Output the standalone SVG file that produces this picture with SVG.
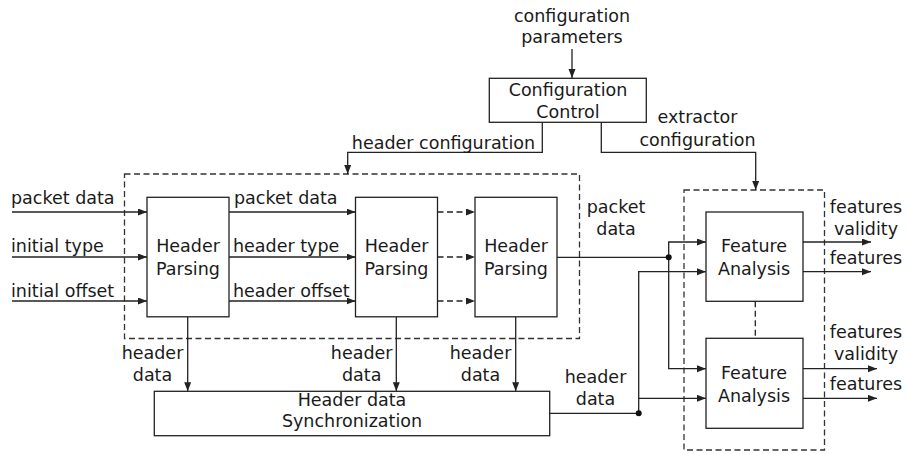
<svg xmlns="http://www.w3.org/2000/svg" width="907" height="454" viewBox="0 0 907 454">
<style>
text{font-family:"DejaVu Sans",sans-serif;font-size:17.5px;fill:#1a1a1a}
.m{text-anchor:middle}
.box{fill:#fff;stroke:#222;stroke-width:1.3}
.dbox{fill:none;stroke:#333;stroke-width:1.3;stroke-dasharray:6,3.5}
.ln{fill:none;stroke:#222;stroke-width:1.3}
.a{marker-end:url(#ah)}
.dl{stroke-dasharray:6,3.5}
</style>
<defs>
<marker id="ah" markerUnits="userSpaceOnUse" markerWidth="10" markerHeight="8" refX="9" refY="3.5" orient="auto">
<path d="M0,0 L9,3.5 L0,7 z" fill="#222"/>
</marker>
</defs>

<g id="group-parsing"><rect class="dbox" x="124.5" y="174" width="455" height="164.5"/></g>
<g id="group-analysis"><rect class="dbox" x="684" y="190" width="140.5" height="260"/></g>

<g id="connectors">
<!-- config params -->
<line class="ln a" x1="572" y1="49" x2="572" y2="78"/>
<!-- header configuration -->
<polyline class="ln a" points="542.3,122.3 542.3,152.3 347.7,152.3 347.7,174"/>
<!-- extractor configuration -->
<polyline class="ln a" points="601.3,122.3 601.3,152.3 755.7,152.3 755.7,190"/>
<!-- inputs -->
<line class="ln a" x1="12" y1="212" x2="147" y2="212"/>
<line class="ln a" x1="12" y1="257" x2="147" y2="257"/>
<line class="ln a" x1="12" y1="301" x2="147" y2="301"/>
<!-- HP1 -> HP2 -->
<line class="ln a" x1="229" y1="212" x2="355.5" y2="212"/>
<line class="ln a" x1="229" y1="257" x2="355.5" y2="257"/>
<line class="ln a" x1="229" y1="301" x2="355.5" y2="301"/>
<!-- HP2 -> HP3 dashed -->
<line class="ln a dl" x1="437.5" y1="212" x2="475" y2="212"/>
<line class="ln a dl" x1="437.5" y1="257" x2="475" y2="257"/>
<line class="ln a dl" x1="437.5" y1="301" x2="475" y2="301"/>
<!-- header data down -->
<line class="ln a" x1="187.7" y1="317" x2="187.7" y2="391.3"/>
<line class="ln a" x1="396.3" y1="317" x2="396.3" y2="391.3"/>
<line class="ln a" x1="515.7" y1="317" x2="515.7" y2="391.3"/>
<!-- packet data to feature analysis -->
<line class="ln" x1="557" y1="257.3" x2="668.7" y2="257.3"/>
<polyline class="ln a" points="668.7,257.3 668.7,242 706,242"/>
<polyline class="ln a" points="668.7,257.3 668.7,368.7 706,368.7"/>
<circle cx="668.7" cy="257.3" r="3" fill="#111"/>
<!-- header data from sync -->
<line class="ln" x1="549.7" y1="413.3" x2="638.7" y2="413.3"/>
<polyline class="ln a" points="638.7,413.3 638.7,271.7 706,271.7"/>
<polyline class="ln a" points="638.7,398.3 706,398.3"/>
<circle cx="638.7" cy="413.3" r="3" fill="#111"/>
<!-- FA outputs -->
<line class="ln a" x1="803" y1="242" x2="871" y2="242"/>
<line class="ln a" x1="803" y1="271.7" x2="871" y2="271.7"/>
<line class="ln a" x1="803" y1="368.7" x2="877" y2="368.7"/>
<line class="ln a" x1="803" y1="398.3" x2="877" y2="398.3"/>
<!-- dashed between FA -->
<line class="ln dl" x1="755.3" y1="301.3" x2="755.3" y2="338.3"/>
</g>

<g id="config-control">
<rect class="box" x="489.3" y="78.3" width="157" height="44"/>
<text class="m" x="568" y="96">Configuration</text>
<text class="m" x="568" y="118">Control</text>
</g>

<g id="hp1">
<rect class="box" x="147" y="197.3" width="82" height="119.5"/>
<text class="m" x="188" y="251.5">Header</text>
<text class="m" x="188" y="275">Parsing</text>
</g>
<g id="hp2">
<rect class="box" x="355.5" y="197.3" width="82" height="119.5"/>
<text class="m" x="396.5" y="251.5">Header</text>
<text class="m" x="396.5" y="275">Parsing</text>
</g>
<g id="hp3">
<rect class="box" x="475" y="197.3" width="82" height="119.5"/>
<text class="m" x="516" y="251.5">Header</text>
<text class="m" x="516" y="275">Parsing</text>
</g>

<g id="sync">
<rect class="box" x="154.3" y="391.3" width="395.4" height="44.4"/>
<text class="m" x="352" y="406">Header data</text>
<text class="m" x="352" y="427">Synchronization</text>
</g>

<g id="fa1">
<rect class="box" x="706" y="212" width="97" height="89.3"/>
<text class="m" x="754" y="251.5">Feature</text>
<text class="m" x="754" y="275">Analysis</text>
</g>
<g id="fa2">
<rect class="box" x="706" y="338.3" width="97" height="90"/>
<text class="m" x="754" y="379">Feature</text>
<text class="m" x="754" y="401.5">Analysis</text>
</g>

<g id="labels">
<text class="m" x="572" y="21.5">configuration</text>
<text class="m" x="572" y="43">parameters</text>
<text class="m" x="443.5" y="149">header configuration</text>
<text class="m" x="697.5" y="122.5">extractor</text>
<text class="m" x="697.5" y="145.5">configuration</text>
<text x="11" y="204.3">packet data</text>
<text x="11" y="252.3">initial type</text>
<text x="11" y="297.3">initial offset</text>
<text x="234" y="204.3">packet data</text>
<text x="233" y="252.3">header type</text>
<text x="233" y="297.3">header offset</text>
<text class="m" x="616" y="213">packet</text>
<text class="m" x="616" y="235">data</text>
<text class="m" x="152.5" y="359">header</text>
<text class="m" x="152.5" y="380.5">data</text>
<text class="m" x="361.7" y="359">header</text>
<text class="m" x="361.7" y="380.5">data</text>
<text class="m" x="480.5" y="359">header</text>
<text class="m" x="480.5" y="380.5">data</text>
<text class="m" x="595.5" y="383">header</text>
<text class="m" x="595.5" y="405">data</text>
<text class="m" x="866" y="213">features</text>
<text class="m" x="866" y="235">validity</text>
<text class="m" x="866" y="264">features</text>
<text class="m" x="866" y="338">features</text>
<text class="m" x="866" y="360">validity</text>
<text class="m" x="866" y="390">features</text>
</g>
</svg>
